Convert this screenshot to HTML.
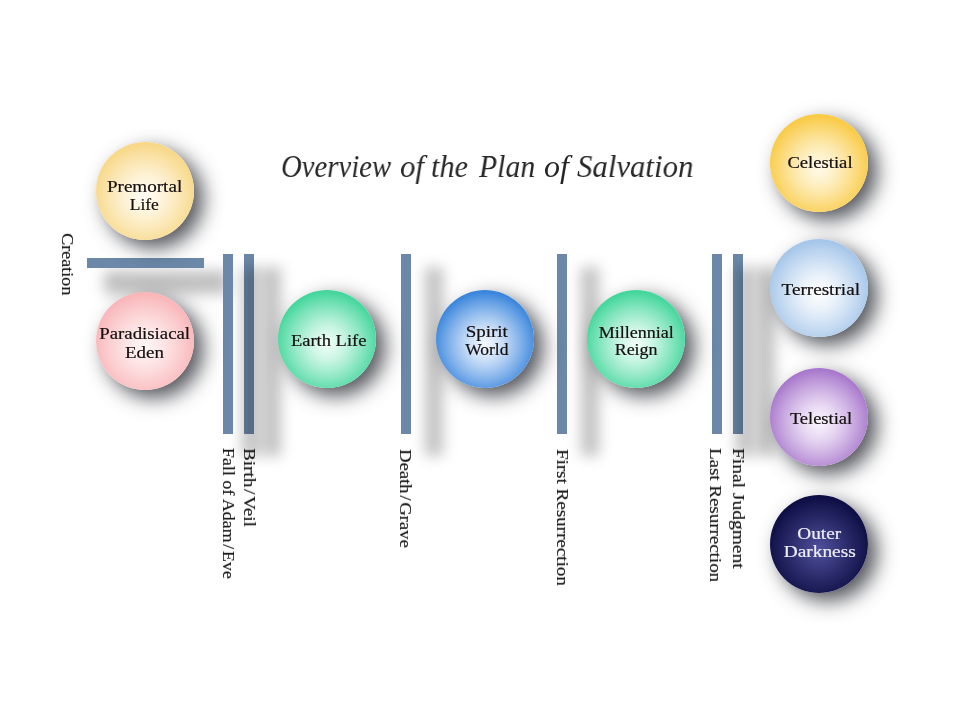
<!DOCTYPE html>
<html><head><meta charset="utf-8">
<style>
html,body{margin:0;padding:0;background:#fff;}
body{width:960px;height:720px;position:relative;overflow:hidden;font-family:"Liberation Serif",serif;}
.bar{position:absolute;background:#6b88a8;}
.sh{position:absolute;background:rgba(0,0,0,0.24);filter:blur(7px);}
.c{position:absolute;width:98px;height:98px;border-radius:50%;box-shadow:9px 8px 20px rgba(40,42,50,0.8);}
.ln{position:absolute;width:120px;text-align:center;font-size:16px;line-height:16px;white-space:nowrap;}
.ln span{display:inline-block;will-change:transform;-webkit-text-stroke:0.2px currentColor;}
.lab{position:absolute;will-change:transform;-webkit-text-stroke:0.15px currentColor;font-size:16px;line-height:16px;color:#111;white-space:nowrap;transform-origin:0 0;}
.tw{position:absolute;will-change:transform;top:150.3px;font-style:italic;font-size:32px;line-height:32px;color:#262626;white-space:nowrap;transform-origin:0 0;}
.sl{margin:0 1.5px;}
</style></head><body>

<!-- horizontal bar + shadow -->
<div class="sh" style="left:104px;top:271px;width:124px;height:23px;background:rgba(0,0,0,0.25);"></div>
<div class="bar" style="left:87px;top:258px;width:117px;height:10px;"></div>

<!-- Birth/Veil pair: bar2 shadow, bar2, bar1 shadow, bar1 -->
<div class="sh" style="left:263px;top:267px;width:18px;height:189px;"></div>
<div class="bar" style="left:244px;top:254px;width:10px;height:180px;"></div>
<div class="sh" style="left:242px;top:267px;width:18px;height:189px;"></div>
<div class="bar" style="left:223px;top:254px;width:10px;height:180px;"></div>

<!-- Death/Grave -->
<div class="sh" style="left:425px;top:267px;width:18px;height:189px;"></div>
<div class="bar" style="left:401px;top:254px;width:10px;height:180px;"></div>

<!-- First Resurrection -->
<div class="sh" style="left:581px;top:267px;width:18px;height:189px;"></div>
<div class="bar" style="left:557px;top:254px;width:10px;height:180px;"></div>

<!-- Last/Final pair -->
<div class="sh" style="left:757px;top:267px;width:18px;height:189px;"></div>
<div class="bar" style="left:733px;top:254px;width:10px;height:180px;"></div>
<div class="sh" style="left:736px;top:267px;width:18px;height:189px;"></div>
<div class="bar" style="left:712px;top:254px;width:10px;height:180px;"></div>

<!-- circles -->
<div class="c" style="left:96px;top:142px;background:radial-gradient(circle 52px at 50% 55%,#fffdf6 0%,58%,#f8d888 100%);"></div>
<div class="c" style="left:96px;top:292px;background:radial-gradient(circle 52px at 50% 55%,#fff6f6 0%,58%,#f9b6b9 100%);"></div>
<div class="c" style="left:278px;top:290px;background:radial-gradient(circle 52px at 50% 55%,#f2fff9 0%,58%,#44d69c 100%);"></div>
<div class="c" style="left:436px;top:290px;background:radial-gradient(circle 52px at 50% 55%,#f6f9ff 0%,58%,#3a86dd 100%);"></div>
<div class="c" style="left:587px;top:290px;background:radial-gradient(circle 52px at 50% 55%,#f2fff9 0%,58%,#44d69c 100%);"></div>
<div class="c" style="left:770px;top:114px;background:radial-gradient(circle 52px at 50% 55%,#fffbea 0%,58%,#f9ca45 100%);"></div>
<div class="c" style="left:770px;top:239px;background:radial-gradient(circle 52px at 50% 55%,#ffffff 0%,58%,#a5c6ea 100%);"></div>
<div class="c" style="left:770px;top:368px;background:radial-gradient(circle 52px at 50% 55%,#fcf6ff 0%,58%,#a878cc 100%);"></div>
<div class="c" style="left:770px;top:495px;background:radial-gradient(circle 52px at 50% 55%,#50509c 0%,#0e0e45 100%);"></div>

<!-- circle text -->
<div class="ln" style="left:85.00px;top:178.60px;color:#140f0f"><span style="transform:scaleX(1.1934)">Premortal</span></div>
<div class="ln" style="left:84.80px;top:196.80px;color:#140f0f"><span style="transform:scaleX(1.0904)">Life</span></div>
<div class="ln" style="left:85.10px;top:326.40px;color:#140f0f"><span style="transform:scaleX(1.1760)">Paradisiacal</span></div>
<div class="ln" style="left:84.90px;top:344.60px;color:#140f0f"><span style="transform:scaleX(1.1817)">Eden</span></div>
<div class="ln" style="left:268.80px;top:332.60px;color:#140f0f"><span style="transform:scaleX(1.1560)">Earth Life</span></div>
<div class="ln" style="left:426.30px;top:324.40px;color:#140f0f"><span style="transform:scaleX(1.1823)">Spirit</span></div>
<div class="ln" style="left:427.10px;top:342.00px;color:#140f0f"><span style="transform:scaleX(1.0924)">World</span></div>
<div class="ln" style="left:576.40px;top:325.20px;color:#140f0f"><span style="transform:scaleX(1.1262)">Millennial</span></div>
<div class="ln" style="left:576.10px;top:342.00px;color:#140f0f"><span style="transform:scaleX(1.1192)">Reign</span></div>
<div class="ln" style="left:760.38px;top:155.00px;color:#140f0f"><span style="transform:scaleX(1.1633)">Celestial</span></div>
<div class="ln" style="left:760.30px;top:282.00px;color:#140f0f"><span style="transform:scaleX(1.1972)">Terrestrial</span></div>
<div class="ln" style="left:760.70px;top:411.40px;color:#140f0f"><span style="transform:scaleX(1.1519)">Telestial</span></div>
<div class="ln" style="left:759.60px;top:526.40px;color:#eeeef8"><span style="transform:scaleX(1.1999)">Outer</span></div>
<div class="ln" style="left:759.60px;top:543.80px;color:#eeeef8"><span style="transform:scaleX(1.2070)">Darkness</span></div>

<!-- title -->
<div class="tw" style="left:280.5px;transform:scaleX(0.898);">Overview</div>
<div class="tw" style="left:399.9px;transform:scaleX(0.963);">of</div>
<div class="tw" style="left:431.3px;transform:scaleX(0.943);">the</div>
<div class="tw" style="left:478.6px;transform:scaleX(0.929);">Plan</div>
<div class="tw" style="left:544.1px;transform:scaleX(0.989);">of</div>
<div class="tw" style="left:576.5px;transform:scaleX(0.962);">Salvation</div>

<!-- labels (rotated 90deg clockwise) -->
<div class="lab" style="left:75.0px;top:233.2px;transform:rotate(90deg) scaleX(1.1315);">Creation</div>
<div class="lab" style="left:235.5px;top:448.0px;transform:rotate(90deg) scaleX(1.1198);">Fall of Adam<span class="sl">/</span>Eve</div>
<div class="lab" style="left:256.5px;top:448.0px;transform:rotate(90deg) scaleX(1.193);">Birth<span class="sl">/</span>Veil</div>
<div class="lab" style="left:413.0px;top:448.9px;transform:rotate(90deg) scaleX(1.1657);">Death<span class="sl">/</span>Grave</div>
<div class="lab" style="left:570.0px;top:448.7px;transform:rotate(90deg) scaleX(1.1882);">First Resurrection</div>
<div class="lab" style="left:722.5px;top:448.0px;transform:rotate(90deg) scaleX(1.184);">Last Resurrection</div>
<div class="lab" style="left:745.5px;top:448.0px;transform:rotate(90deg) scaleX(1.217);">Final Judgment</div>

</body></html>
